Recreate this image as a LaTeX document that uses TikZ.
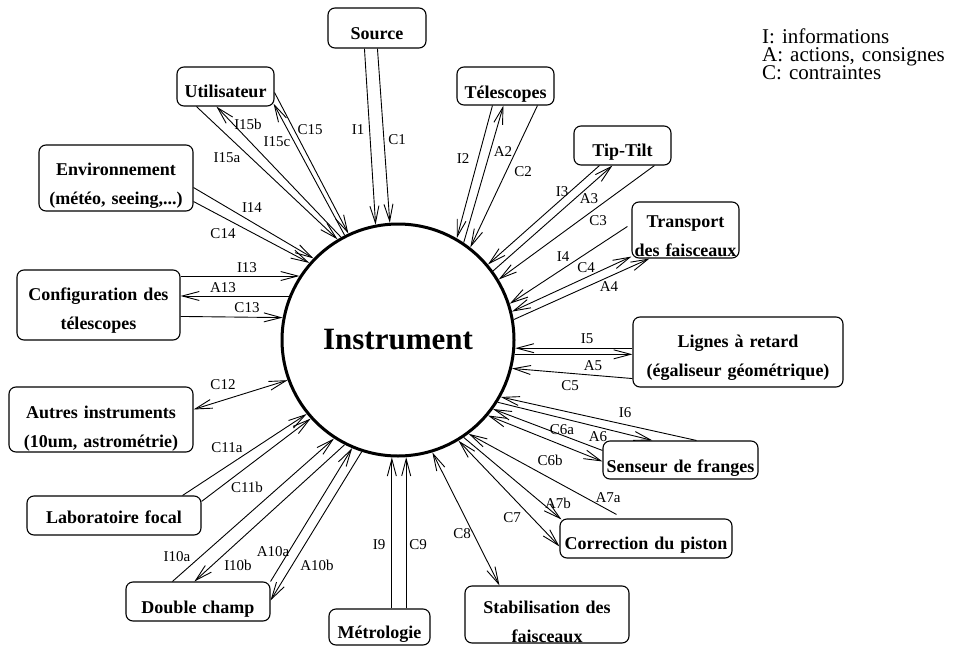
\documentclass[tikz,border=0pt]{standalone}
\usepackage{fontspec}
\setmainfont{Liberation Serif}
\usetikzlibrary{arrows.meta,calc}
\newcommand{\policelegende}{\fontsize{21}{18}\selectfont\lineskiplimit=-20pt\relax}
\tikzstyle{boite} = [rectangle, draw=black, line width=1.1pt, rounded corners=7pt, inner sep=0pt, align=center, font=\bfseries\fontsize{18}{29}\selectfont]
\tikzstyle{etiquette} = [inner sep=0pt, font=\fontsize{15}{15}\selectfont]
\tikzstyle{flux} = [line width=0.9pt]

\begin{document}
\begin{tikzpicture}[x=1pt, y=-1pt, >={Straight Barb[length=17pt,width=9pt]}]

    \useasboundingbox (0,0) rectangle (962,648);

    \node (instrument) [circle, draw=black, line width=3pt, minimum size=232pt, inner sep=0pt, font=\bfseries\fontsize{31}{31}\selectfont] at (398,340) {Instrument};

    \node (source) [boite, text width=98pt, text height=31pt, text depth=9pt] at (377,28) {Source};
    \node (utilisateur) [boite, text width=97pt, text height=30pt, text depth=9pt] at (225.5,86.5) {Utilisateur};
    \node (telescopes) [boite, text width=97pt, text height=31pt, text depth=7pt] at (505.5,86) {Télescopes};
    \node (tipTilt) [boite, text width=97pt, text height=30pt, text depth=9pt] at (622.5,145.5) {Tip-Tilt};
    \node (transport) [boite, text width=107pt, text height=25pt, text depth=31pt] at (685.5,230) {Transport\\des faisceaux};
    \node (environnement) [boite, text width=154pt, text height=30pt, text depth=36pt] at (116,178) {Environnement\\(météo, seeing,...)};
    \node (configuration) [boite, text width=163pt, text height=30pt, text depth=40pt] at (98.5,305) {Configuration des\\télescopes};
    \node (lignes) [boite, text width=210pt, text height=30pt, text depth=40pt] at (738,352) {Lignes à retard\\(égaliseur géométrique)};
    \node (autres) [boite, text width=184pt, text height=31pt, text depth=34pt] at (101,419.5) {Autres instruments\\(10um, astrométrie)};
    \node (laboFocal) [boite, text width=174pt, text height=27pt, text depth=12pt] at (114,515.5) {Laboratoire focal};
    \node (senseur) [boite, text width=155pt, text height=31pt, text depth=7pt] at (680.5,460) {Senseur de franges};
    \node (piston) [boite, text width=172pt, text height=30pt, text depth=9pt] at (646,538.5) {Correction du piston};
    \node (stabilisation) [boite, text width=164pt, text height=27pt, text depth=30pt] at (547,614.5) {Stabilisation des\\faisceaux};
    \node (doubleChamp) [boite, text width=144pt, text height=31pt, text depth=8pt] at (198,601.5) {Double champ};
    \node (metrologie) [boite, text width=101pt, text height=29pt, text depth=7pt] at (379.5,627) {Métrologie};

    \node (legende) [anchor=base west, text width=200pt, align=left, inner sep=0pt, font=\policelegende] at (762,43) {I: informations\\A: actions, consignes\\C: contraintes};

    % source
    \draw[flux,->] ($(source.south west)+(37,0)$) -- (instrument.101.5) node[etiquette] (tI1) at (358,130) {I1};
    \draw[flux,->] ($(source.south west)+(50,0)$) -- (instrument.94.5) node[etiquette] (tC1) at (397,140) {C1};

    % utilisateur
    \draw[flux,->] ($(utilisateur.south west)+(20,0)$) -- (instrument.121) node[etiquette] (tI15a) at (227,158) {I15a};
    \draw[flux,->] (instrument.119) -- ($(utilisateur.south west)+(40,0)$) node[etiquette] (tI15b) at (248,124) {I15b};
    \draw[flux,->] (instrument.117) -- ($(utilisateur.south east)+(-1,-3)$) node[etiquette] (tI15c) at (277,142) {I15c};
    \draw[flux,->] ($(utilisateur.south east)+(0,-14)$) -- (instrument.115) node[etiquette] (tC15) at (310,130) {C15};

    % environnement
    \draw[flux,->] ($(environnement.south east)+(0,-24)$) -- (instrument.136) node[etiquette] (tI14) at (252,208) {I14};
    \draw[flux,->] ($(environnement.south east)+(0,-10)$) -- (instrument.139) node[etiquette] (tC14) at (223,234) {C14};

    % configuration
    \draw[flux,->] (instrument.147.7 -| configuration.east) -- (instrument.147.7) node[etiquette] (tI13) at (247,268) {I13};
    \draw[flux,->] (instrument.158.2) -- (instrument.158.2 -| configuration.east) node[etiquette] (tA13) at (223,288) {A13};
    \draw[flux,->] ($(configuration.north east)+(0,47)$) -- (instrument.169) node[etiquette] (tC13) at (247,308) {C13};

    % autres instruments
    \draw[flux,<->] ($(autres.north east)+(0,23)$) -- (instrument.200.7) node[etiquette] (tC12) at (223,385) {C12};

    % laboratoire
    \draw[flux,->] ($(laboFocal.north east)+(-19,0)$) -- (instrument.219.5) node[etiquette] (tC11a) at (227,448) {C11a};
    \draw[flux,->] ($(laboFocal.north east)+(0,6)$) -- (instrument.222.5) node[etiquette] (tC11b) at (247,487) {C11b};

    % double champ
    \draw[flux,->] ($(doubleChamp.north west)+(47,0)$) -- (instrument.237) node[etiquette] (tI10a) at (177,557) {I10a};
    \draw[flux,->] (instrument.243) -- ($(doubleChamp.north west)+(69,0)$) node[etiquette] (tI10b) at (238,565) {I10b};
    \draw[flux,->] (doubleChamp.north east) -- (instrument.247) node[etiquette] (tA10a) at (273,552) {A10a};
    \draw[flux,->] (instrument.252) -- ($(doubleChamp.north east)+(0,19)$) node[etiquette] (tA10b) at (317,565) {A10b};

    % metrologie
    \draw[flux,->] (instrument.267 |- metrologie.north) -- (instrument.267) node[etiquette] (tI9) at (379,545) {I9};
    \draw[flux,->] (instrument.274 |- metrologie.north) -- (instrument.274) node[etiquette] (tC9) at (418,545) {C9};

    % stabilisation
    \draw[flux,<->] (instrument.287) -- ($(stabilisation.north west)+(35,0)$) node[etiquette] (tC8) at (462,534) {C8};

    % piston
    \draw[flux,<->] (instrument.301) -- ($(piston.north west)+(0,28)$) node[etiquette] (tC7) at (512,518) {C7};
    \draw[flux,->] (instrument.304) -- ($(piston.north west)+(2,1)$) node[etiquette] (tA7b) at (558,503) {A7b};
    \draw[flux,->] ($(piston.north west)+(57,-4)$) -- (instrument.307) node[etiquette] (tA7a) at (608,498) {A7a};

    % senseur
    \draw[flux,->] ($(senseur.north west)+(94,0)$) -- (instrument.331.5) node[etiquette] (tI6) at (625,413) {I6};
    \draw[flux,->] (instrument.328) -- ($(senseur.north west)+(50,0)$) node[etiquette] (tA6) at (598,437) {A6};
    \draw[flux,->] ($(senseur.north west)+(0,10)$) -- (instrument.324) node[etiquette] (tC6a) at (562,430) {C6a};
    \draw[flux,<->] (instrument.320) -- ($(senseur.north west)+(0,21)$) node[etiquette] (tC6b) at (550,460) {C6b};

    % lignes a retard
    \draw[flux,->] (instrument.-4 -| lignes.west) -- (instrument.-4) node[etiquette] (tI5) at (587,339) {I5};
    \draw[flux,->] (instrument.-7.4) -- (instrument.-7.4 -| lignes.west) node[etiquette] (tA5) at (593,366) {A5};
    \draw[flux,->] ($(lignes.south west)+(0,-9)$) -- (instrument.-14) node[etiquette] (tC5) at (570,386) {C5};

    % transport
    \draw[flux,->] ($(transport.north west)+(-4,25)$) -- (instrument.18) node[etiquette] (tI4) at (563,257) {I4};
    \draw[flux,<->] (instrument.14) -- ($(transport.south west)+(0,-2)$) node[etiquette] (tC4) at (586,268) {C4};
    \draw[flux,->] (instrument.10) -- ($(transport.south west)+(18,0)$) node[etiquette] (tA4) at (609,287) {A4};

    % tip-tilt
    \draw[flux,->] ($(tipTilt.south west)+(26,0)$) -- (instrument.40) node[etiquette] (tI3) at (562,192) {I3};
    \draw[flux,->] (instrument.36.5) -- ($(tipTilt.south west)+(39,0)$) node[etiquette] (tA3) at (589,199) {A3};
    \draw[flux,->] ($(tipTilt.south west)+(81,0)$) -- (instrument.31) node[etiquette] (tC3) at (598,221) {C3};

    % telescopes
    \draw[flux,->] ($(telescopes.south west)+(36,0)$) -- (instrument.60) node[etiquette] (tI2) at (463,159) {I2};
    \draw[flux,->] (instrument.56) -- ($(telescopes.south west)+(47,0)$) node[etiquette] (tA2) at (503,152) {A2};
    \draw[flux,->] ($(telescopes.south west)+(81,0)$) -- (instrument.52) node[etiquette] (tC2) at (523,172) {C2};

\end{tikzpicture}
\end{document}
